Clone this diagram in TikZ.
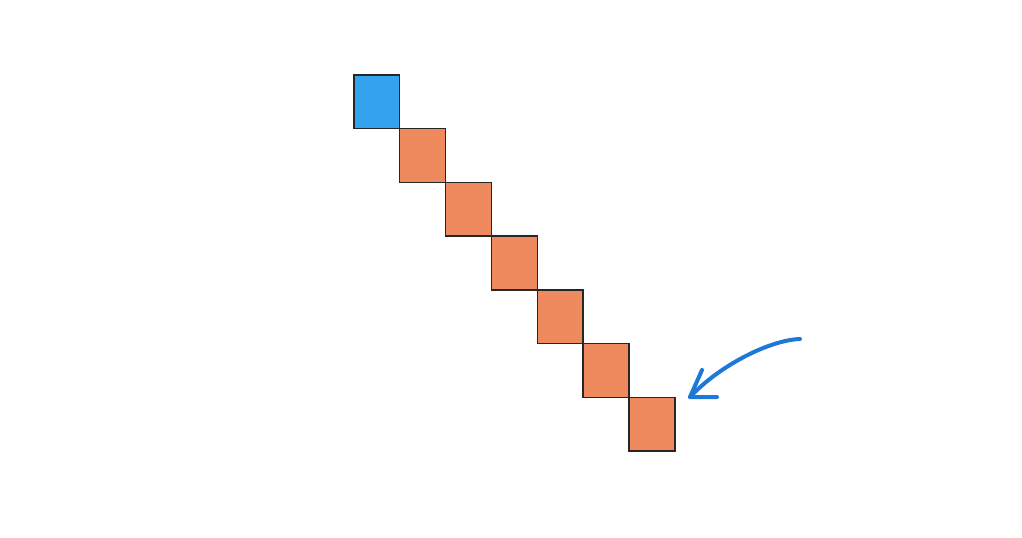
\documentclass[tikz,border=0pt]{standalone}
\usetikzlibrary{positioning}
\definecolor{cellblue}{RGB}{51,163,240}
\definecolor{cellorange}{RGB}{238,138,94}
\definecolor{arrowblue}{RGB}{30,120,216}
\tikzset{
  cell/.style={draw=black!85, line width=1.1pt, minimum width=34.4pt, minimum height=40.3pt, inner sep=0pt, outer sep=0pt},
  startcell/.style={cell, fill=cellblue},
  stepcell/.style={cell, fill=cellorange, anchor=north west},
  pointer/.style={draw=arrowblue, line width=3pt, line cap=round, line join=round}
}
\begin{document}
\begin{tikzpicture}[x=0.75pt,y=0.75pt,yscale=-1,xscale=1]
\useasboundingbox (0,0) rectangle (1022,537);

%Start cell
\node [startcell] (c0) at (376.8,101.7) {};
%Diagonal cells
\node [stepcell] (c1) at (c0.south east) {};
\node [stepcell] (c2) at (c1.south east) {};
\node [stepcell] (c3) at (c2.south east) {};
\node [stepcell] (c4) at (c3.south east) {};
\node [stepcell] (c5) at (c4.south east) {};
\node [stepcell] (c6) at (c5.south east) {};

%Curved pointer
\coordinate (tail) at (800,339);
\coordinate (tip) at (690,397);
\draw [pointer] (tail) .. controls (770,340) and (720,365) .. (tip) ;
\draw [pointer] (702,370) -- (tip) -- (717,397) ;

\end{tikzpicture}
\end{document}
